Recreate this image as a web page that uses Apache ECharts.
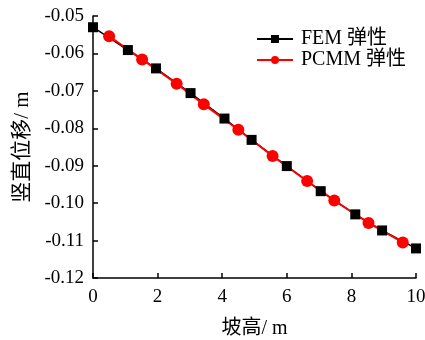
<!DOCTYPE html>
<html>
<head>
<meta charset="utf-8">
<script src="https://cdn.jsdelivr.net/npm/echarts@6/dist/echarts.min.js"></script>
<style>html,body{margin:0;padding:0;background:#fff}#c{width:425px;height:340px}</style>
</head>
<body>
<div id="c"></div>
<script>
var femX = [0, 1.08, 1.95, 3.02, 4.07, 4.91, 6.0, 7.05, 8.12, 8.95, 10.0];
var femY = [-0.0530, -0.0591, -0.0640, -0.0706, -0.0774, -0.0831, -0.0901, -0.0968, -0.1030, -0.1073, -0.1121];
var pcmmX = [0.5, 1.52, 2.59, 3.43, 4.5, 5.56, 6.63, 7.47, 8.53, 9.59];
var pcmmY = [-0.0554, -0.0616, -0.0681, -0.0736, -0.0804, -0.0874, -0.0941, -0.0993, -0.1053, -0.1105];
var seriesNames = ['FEM 弹性', 'PCMM 弹性'];
var xAxisName = '坡高/ m';
var yAxisName = '竖直位移/ m';

function pairs(xs, ys) { return xs.map(function (x, i) { return [x, ys[i]]; }); }
var FONT = '"Liberation Serif", "Noto Sans CJK SC", serif';

var chart = echarts.init(document.getElementById('c'), null, {renderer: 'canvas'});
chart.setOption({
  animation: false,
  backgroundColor: '#fff',
  grid: {left: 93, top: 16, width: 323, height: 262, containLabel: false, outerBoundsMode: 'none'},
  legend: {
    orient: 'vertical', left: 251, top: 24, itemGap: 1,
    itemWidth: 36, itemHeight: 10,
    textStyle: {fontFamily: FONT, fontSize: 20, color: '#000', padding: [0, 0, 0, 3]},
    data: seriesNames
  },
  xAxis: {
    type: 'value', min: 0, max: 10, interval: 2,
    name: xAxisName, nameLocation: 'middle', nameGap: 41,
    nameTextStyle: {fontFamily: FONT, fontSize: 20, color: '#000'},
    axisLine: {lineStyle: {color: '#000', width: 1.5}},
    axisTick: {inside: true, length: 5, lineStyle: {color: '#000', width: 1.5}},
    axisLabel: {fontFamily: FONT, fontSize: 19, color: '#000', margin: 10},
    splitLine: {show: false}
  },
  yAxis: {
    type: 'value', min: -0.12, max: -0.05, interval: 0.01,
    name: yAxisName, nameLocation: 'middle', nameGap: 60,
    nameTextStyle: {fontFamily: FONT, fontSize: 21, color: '#000'},
    axisLine: {show: true, lineStyle: {color: '#000', width: 1.5}},
    axisTick: {show: true, inside: true, length: 5, lineStyle: {color: '#000', width: 1.5}},
    axisLabel: {fontFamily: FONT, fontSize: 19, color: '#000', margin: 9,
      formatter: function (v) { return v.toFixed(2); }},
    splitLine: {show: false}
  },
  series: [
    {
      name: seriesNames[0], type: 'line', data: pairs(femX, femY),
      symbol: 'rect', symbolSize: 10,
      lineStyle: {color: '#000', width: 1.5},
      itemStyle: {color: '#000'}
    },
    {
      name: seriesNames[1], type: 'line', data: pairs(pcmmX, pcmmY),
      symbol: 'circle', symbolSize: 12,
      lineStyle: {color: '#ff0000', width: 2},
      itemStyle: {color: '#ff0000'}
    }
  ]
});
</script>
</body>
</html>
